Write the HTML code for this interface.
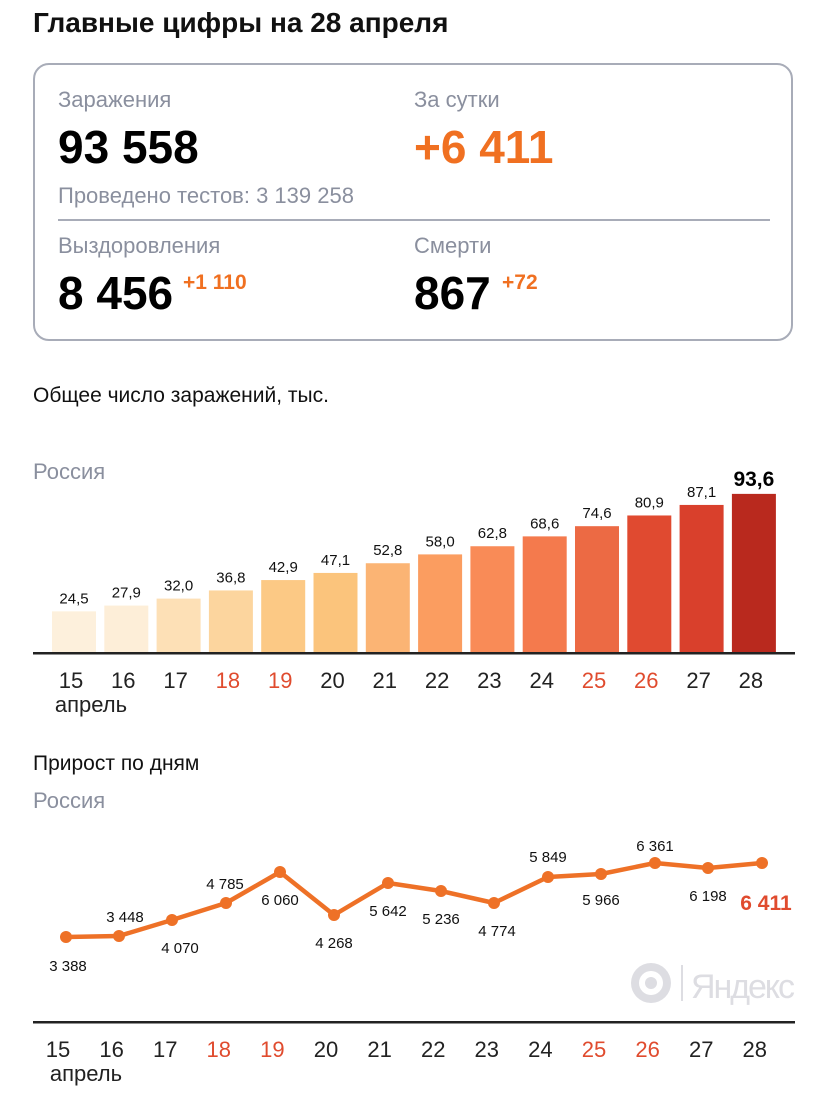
<!DOCTYPE html><html><head><meta charset="utf-8"><style>
body{margin:0;width:828px;height:1099px;background:#fff;font-family:"Liberation Sans",sans-serif;position:relative;overflow:hidden}
.a{position:absolute;white-space:nowrap}
</style></head><body>
<div class="a" style="left:33px;top:7px;font-size:28px;font-weight:bold;color:#111">Главные цифры на 28 апреля</div>
<div class="a" style="left:33px;top:63px;width:760px;height:278px;border:2px solid #a8acb8;border-radius:16px;box-sizing:border-box"></div>
<div class="a" style="left:58px;top:87px;font-size:22px;color:#8a8f9e">Заражения</div>
<div class="a" style="left:58px;top:120px;font-size:46px;font-weight:bold;color:#000">93 558</div>
<div class="a" style="left:58px;top:183px;font-size:22px;color:#8a8f9e">Проведено тестов: 3 139 258</div>
<div class="a" style="left:414px;top:87px;font-size:22px;color:#8a8f9e">За сутки</div>
<div class="a" style="left:414px;top:120px;font-size:46px;font-weight:bold;color:#f07021">+6 411</div>
<div class="a" style="left:58px;top:219px;width:712px;height:2px;background:#a8acb8"></div>
<div class="a" style="left:58px;top:233px;font-size:22px;color:#8a8f9e">Выздоровления</div>
<div class="a" style="left:58px;top:266px;font-size:46px;font-weight:bold;color:#000">8 456</div>
<div class="a" style="left:183px;top:271px;font-size:21px;font-weight:bold;color:#f07021">+1 110</div>
<div class="a" style="left:414px;top:233px;font-size:22px;color:#8a8f9e">Смерти</div>
<div class="a" style="left:414px;top:266px;font-size:46px;font-weight:bold;color:#000">867</div>
<div class="a" style="left:502px;top:271px;font-size:21px;font-weight:bold;color:#f07021">+72</div>
<div class="a" style="left:33px;top:384px;font-size:21px;color:#111">Общее число заражений, тыс.</div>
<div class="a" style="left:33px;top:459px;font-size:22px;color:#8a8f9e">Россия</div>
<div class="a" style="left:33px;top:752px;font-size:21px;color:#111">Прирост по дням</div>
<div class="a" style="left:33px;top:788px;font-size:22px;color:#8a8f9e">Россия</div>
<svg class="a" style="left:0;top:0" width="828" height="1099" font-family="Liberation Sans, sans-serif">
<g id="bars"></g>
<rect x="33" y="652" width="762" height="2.5" fill="#222"/>
<rect x="33" y="1021" width="762" height="2.5" fill="#222"/>
<polyline fill="none" stroke="#ee7127" stroke-width="4.5" stroke-linejoin="round" points="66,937 119,936 172,920 226,903 280,872 334,915 388,883 441,891 494,903 548,877 601,874 655,863 708,868 762,863"/>
<g fill="#ee7127"><circle cx="66" cy="937" r="6"/><circle cx="119" cy="936" r="6"/><circle cx="172" cy="920" r="6"/><circle cx="226" cy="903" r="6"/><circle cx="280" cy="872" r="6"/><circle cx="334" cy="915" r="6"/><circle cx="388" cy="883" r="6"/><circle cx="441" cy="891" r="6"/><circle cx="494" cy="903" r="6"/><circle cx="548" cy="877" r="6"/><circle cx="601" cy="874" r="6"/><circle cx="655" cy="863" r="6"/><circle cx="708" cy="868" r="6"/><circle cx="762" cy="863" r="6"/></g>
<g font-size="15" fill="#111" text-anchor="middle">
<text x="68" y="971">3 388</text><text x="125" y="922">3 448</text><text x="180" y="953">4 070</text><text x="225" y="889">4 785</text><text x="280" y="905">6 060</text><text x="334" y="948">4 268</text><text x="388" y="916">5 642</text><text x="441" y="924">5 236</text><text x="497" y="936">4 774</text><text x="548" y="862">5 849</text><text x="601" y="905">5 966</text><text x="655" y="851">6 361</text><text x="708" y="901">6 198</text>
</g>
<text x="766" y="910" font-size="21" font-weight="bold" fill="#e04b2e" text-anchor="middle">6 411</text>
<g fill="#dddde2"><circle cx="651" cy="983" r="20"/></g><circle cx="651" cy="983" r="12" fill="#fff"/><circle cx="651" cy="983" r="6" fill="#dddde2"/>
<rect x="681" y="965" width="2" height="36" fill="#dddde2"/>
<text x="691" y="998" font-size="34" fill="#dddde2" textLength="104">Яндекс</text>
<g font-size="22" text-anchor="middle" id="xl"></g>
</svg>
<script>
var v=[24.5,27.9,32.0,36.8,42.9,47.1,52.8,58.0,62.8,68.6,74.6,80.9,87.1,93.6];
var c=["#fdf0dc","#fdeed8","#fde0b6","#fcd59e","#fcc985","#fbc47c","#fbb474","#fb9d60","#f98b57","#f47a4d","#ec6a44","#e04a30","#d9402c","#b9291e"];
var s='',x='';
for(var i=0;i<14;i++){var bx=52+i*52.3,h=v[i]*1.7,y=653-h;
s+='<rect x="'+bx+'" y="'+y+'" width="44" height="'+h+'" fill="'+c[i]+'"/>';
var lab=v[i].toFixed(1).replace('.',',');
s+= i==13?'<text x="'+(bx+22)+'" y="'+(y-8)+'" font-size="21" font-weight="bold" text-anchor="middle">'+lab+'</text>':'<text x="'+(bx+22)+'" y="'+(y-8)+'" font-size="15" fill="#111" text-anchor="middle">'+lab+'</text>';
var col=(i==3||i==4||i==10||i==11)?'#e04b2e':'#222';
x+='<text x="'+(bx+19)+'" y="688" fill="'+col+'">'+(15+i)+'</text>';
x+='<text x="'+(58+i*53.6)+'" y="1057" fill="'+col+'">'+(15+i)+'</text>';}
x+='<text x="91" y="712" fill="#222">апрель</text><text x="86" y="1081" fill="#222">апрель</text>';
document.getElementById('bars').innerHTML=s;document.getElementById('xl').innerHTML=x;
</script>
</body></html>
